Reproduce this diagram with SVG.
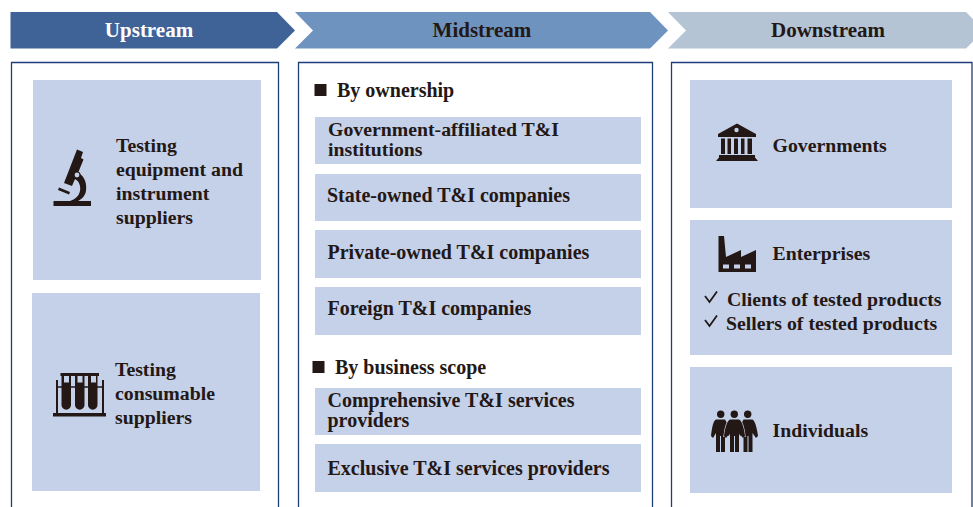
<svg xmlns="http://www.w3.org/2000/svg" width="973" height="507" viewBox="0 0 973 507">
<style>
text{font-family:"Liberation Serif","Times New Roman",serif;font-weight:700;font-size:20px;fill:#231815}
.h{font-size:21px}
.s{font-size:19.800px}
.p{fill:#fff;stroke:#1f3f7a;stroke-width:1.3}
.b{fill:#c5d0e9}
.i{fill:#231815}
.il{fill:none;stroke:#231815}
</style>
<rect width="973" height="507" fill="#fff"/>
<g id="upstream">
<path d="M10.500 12H277L295 30.500L277 48.500H10.500Z" fill="#3f6297"/>
<text class="h" x="149" y="37" text-anchor="middle" style="fill:#fff">Upstream</text>
<path class="p" d="M11.500 507V62.500H278.500V507"/>
<g id="testing-equipment">
<rect class="b" x="33" y="80" width="228" height="200"/>
<g id="microscope">
<path class="i" d="M53.500 201H91V206H53.500Z"/>
<path class="i" d="M59 187.500L70 192L69 194.500L58 190Z"/>
<path class="i" d="M77 149.500L83 152L81 158L83.500 159.500L78 173C85 176 87 184 86 191C85 196 82 199 78 201H70C75 199.500 79 196 80 191C81 186 79 181 75 179L72 186L64 183Z"/>
<circle cx="77" cy="175" r="3" fill="#c5d0e9" stroke="#231815" stroke-width="1.200"/>
</g>
<text class="s" x="116" y="152">Testing</text>
<text class="s" x="116" y="176">equipment and</text>
<text class="s" x="116" y="200">instrument</text>
<text class="s" x="116" y="224">suppliers</text>
</g>
<g id="testing-consumable">
<rect class="b" x="32" y="293" width="228" height="198"/>
<g id="test-tubes">
<path class="i" d="M53 413H106V416.500H53Z"/>
<path class="il" stroke-width="2" d="M57 380V413M103 380V413"/>
<path class="il" stroke-width="1.300" d="M57 387H103"/>
<path class="i" d="M60.500 373H99V376H97.500V405A4.750 4.750 0 0 1 88 405V376H84.500V405A4.750 4.750 0 0 1 75 405V376H71V405A4.750 4.750 0 0 1 61.500 405V376H60.500Z"/>
<path class="b" d="M64 376H69V382.500H64ZM77.500 376H82.500V382.500H77.500ZM91 376H96V382.500H91Z"/>
</g>
<text class="s" x="115" y="376">Testing</text>
<text class="s" x="115" y="400">consumable</text>
<text class="s" x="115" y="424">suppliers</text>
</g>
</g>
<g id="midstream">
<path d="M295 12H650L668 30.500L650 48.500H295L313 30.500Z" fill="#6f93bf"/>
<text class="h" x="482" y="37" text-anchor="middle">Midstream</text>
<path class="p" d="M298.500 507V62.500H652.500V507"/>
<g id="by-ownership">
<rect class="i" x="314.500" y="84" width="12" height="12"/>
<text x="337" y="97">By ownership</text>
</g>
<g id="gov-affiliated"><rect class="b" x="315" y="117" width="326" height="47"/>
<text class="s" x="328" y="136">Government-affiliated T&amp;I</text>
<text class="s" x="328" y="156">institutions</text></g>
<g id="state-owned"><rect class="b" x="315" y="174" width="326" height="47"/>
<text x="327" y="202">State-owned T&amp;I companies</text></g>
<g id="private-owned"><rect class="b" x="315" y="230" width="326" height="48"/>
<text x="327.500" y="259">Private-owned T&amp;I companies</text></g>
<g id="foreign"><rect class="b" x="315" y="287" width="326" height="48"/>
<text x="327.500" y="315">Foreign T&amp;I companies</text></g>
<g id="by-business-scope">
<rect class="i" x="312.500" y="361" width="12" height="12"/>
<text x="335" y="374">By business scope</text>
</g>
<g id="comprehensive"><rect class="b" x="315" y="388" width="326" height="47"/>
<text x="327.500" y="407">Comprehensive T&amp;I services</text>
<text x="327.500" y="427">providers</text></g>
<g id="exclusive"><rect class="b" x="315" y="444" width="326" height="48"/>
<text x="327.500" y="475">Exclusive T&amp;I services providers</text></g>
</g>
<g id="downstream">
<path d="M668 12H966L973 19V41.500L966 48.500H668L686 30.500Z" fill="#b4c4d5"/>
<text class="h" x="828" y="37" text-anchor="middle">Downstream</text>
<path class="p" d="M671.500 507V62.500H972V507"/>
<g id="governments">
<rect class="b" x="690" y="80" width="262" height="128"/>
<g id="bank">
<path class="i" d="M737 123.500L756 134V137H718V134Z"/>
<circle cx="736.500" cy="130" r="2.200" fill="#c5d0e9"/>
<path class="i" d="M721 138.500H725V154H721ZM727.500 138.500H731V154H727.500ZM734 138.500H738V154H734ZM741 138.500H744.500V154H741ZM747.500 138.500H752V154H747.500Z"/>
<path class="i" d="M719 155H755V157.500L758 161H716L719 157.500Z"/>
</g>
<text class="s" x="772.500" y="152">Governments</text>
</g>
<g id="enterprises">
<rect class="b" x="690" y="220" width="262" height="135"/>
<g id="factory">
<path class="i" d="M718.500 272V236H724L726 257L741 250V257L756 250V272Z"/>
<path class="b" d="M723 264.500H729V268.500H723ZM734 264.500H740V268.500H734ZM745 264.500H751V268.500H745Z"/>
</g>
<text class="s" x="772.500" y="260">Enterprises</text>
<path class="il" stroke-width="1.800" d="M705 296L709.500 302L717 291.500"/>
<path class="il" stroke-width="1.800" d="M705 320L709.500 326L717 315.500"/>
<text class="s" x="727" y="306">Clients of tested products</text>
<text class="s" x="726" y="330">Sellers of tested products</text>
</g>
<g id="individuals">
<rect class="b" x="690" y="367" width="262" height="126"/>
<g id="people">
<g class="i">
<circle cx="720.700" cy="414.300" r="3.700"/><circle cx="734.300" cy="414.300" r="3.700"/><circle cx="747.700" cy="414.300" r="3.700"/>
<path d="M716 419.500H725L731 430L729 436L725 433V452H721V436H720V452H716V433L713 438L711 436C712 428 713 421 716 419.500Z"/>
<path d="M743.500 419.500H752.500C755 421 757 428 758 436L756 438L752.500 433V452H748.500V436H747.500V452H743.500V433L740 436L738 430Z"/>
<path stroke="#c5d0e9" stroke-width="1.500" fill="none" d="M730 419C727 421 725 428 724 437M739 419C742 421 744 428 745 437"/>
<path d="M730 419.500H739C742 421 744 428 745 436L743 438L739 433V452H735V436H734V452H730V433L726 438L724 436C725 428 727 421 730 419.500Z"/>
</g>
</g>
<text class="s" x="772.500" y="437">Individuals</text>
</g>
</g>
</svg>
